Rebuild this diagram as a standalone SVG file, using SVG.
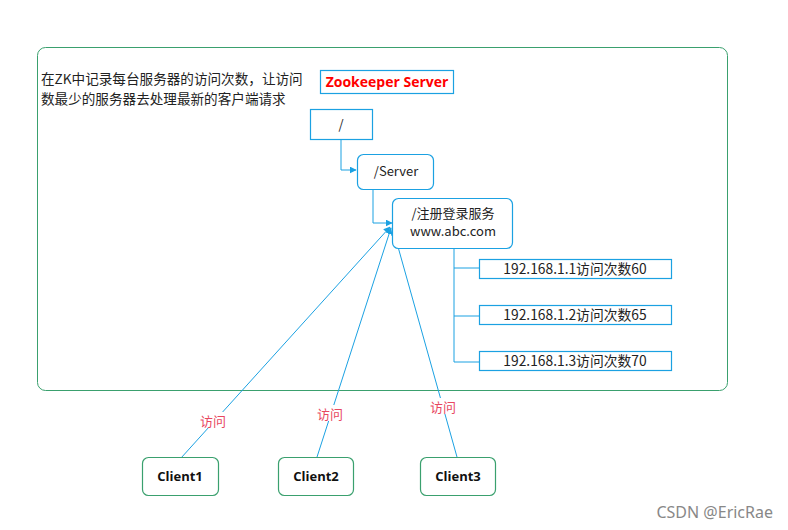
<svg xmlns="http://www.w3.org/2000/svg" width="788" height="530" viewBox="0 0 788 530">
<style>
.t{font-family:"Microsoft YaHei","Noto Sans CJK SC","Open Sans",sans-serif;font-size:13px;fill:#222}
.d{font-size:13.6px}
.ip{font-size:13.8px}
.bx{fill:#fff;stroke:#1ba1e2;stroke-width:1.2}
.cl{fill:#fff;stroke:#3aa06e;stroke-width:1.2}
.ln{fill:none;stroke:#1ba1e2;stroke-width:1}
.lb{font-family:"Noto Sans CJK SC",sans-serif;font-size:13px;fill:#e8475f}
.b{font-family:"Open Sans","Noto Sans",sans-serif;font-weight:bold;font-size:13px;fill:#111}
</style>
<defs>
<marker id="ar" viewBox="0 0 10 10" refX="9" refY="5" markerWidth="7" markerHeight="7" orient="auto" markerUnits="userSpaceOnUse"><path d="M0,0 L10,5 L0,10 z" fill="#1ba1e2"/></marker>
</defs>
<rect width="788" height="530" fill="#fff"/>
<g id="container">
<rect x="37.5" y="47.5" width="690" height="343" rx="8" fill="none" stroke="#3aa06e" stroke-width="1"/>
<text class="t d" x="41" y="84">在ZK中记录每台服务器的访问次数，让访问</text>
<text class="t d" x="41" y="104">数最少的服务器去处理最新的客户端请求</text>
</g>
<g id="connectors">
<path class="ln" d="M341,139 V170 H356" marker-end="url(#ar)"/>
<path class="ln" d="M373,189 V223 H392" marker-end="url(#ar)"/>
<path class="ln" d="M454,248 V362 H479 M454,268 H479 M454,316 H479" stroke-width="1.3"/>
<line class="ln" x1="181" y1="458" x2="390" y2="227" marker-end="url(#ar)"/>
<line class="ln" x1="317" y1="457" x2="391" y2="228" marker-end="url(#ar)"/>
<line class="ln" x1="457" y1="457" x2="393" y2="229" marker-end="url(#ar)"/>
<rect x="198" y="412" width="30" height="16" fill="#fff"/>
<text class="lb" x="213" y="426" text-anchor="middle">访问</text>
<rect x="315" y="405" width="30" height="16" fill="#fff"/>
<text class="lb" x="330" y="419" text-anchor="middle">访问</text>
<rect x="428" y="398" width="30" height="16" fill="#fff"/>
<text class="lb" x="443" y="412" text-anchor="middle">访问</text>
</g>
<g id="title">
<rect x="320.5" y="70.5" width="133" height="23" fill="#fff" stroke="#1ba1e2" stroke-width="1.2"/>
<text x="387" y="87" text-anchor="middle" font-family="'Open Sans','Noto Sans',sans-serif" font-weight="bold" font-size="14" fill="#f00">Zookeeper Server</text>
</g>
<g id="root">
<rect class="bx" x="310.5" y="109.5" width="62" height="30"/>
<text class="t" x="341" y="129" text-anchor="middle">/</text>
</g>
<g id="server">
<rect class="bx" x="357.5" y="154.5" width="76" height="35" rx="6"/>
<text class="t" x="396" y="176" text-anchor="middle">/Server</text>
</g>
<g id="register">
<rect class="bx" x="392.5" y="198.5" width="120" height="50" rx="6"/>
<text class="t" x="453" y="218" text-anchor="middle">/注册登录服务</text>
<text class="t" x="453" y="236" text-anchor="middle">www.abc.com</text>
</g>
<g id="ip1">
<rect class="bx" x="479.5" y="259.5" width="192" height="19"/>
<text class="t ip" x="575" y="274" text-anchor="middle">192.168.1.1访问次数60</text>
</g>
<g id="ip2">
<rect class="bx" x="479.5" y="305.5" width="192" height="19"/>
<text class="t ip" x="575" y="320" text-anchor="middle">192.168.1.2访问次数65</text>
</g>
<g id="ip3">
<rect class="bx" x="479.5" y="351.5" width="192" height="19"/>
<text class="t ip" x="575" y="366" text-anchor="middle">192.168.1.3访问次数70</text>
</g>
<g id="client1">
<rect class="cl" x="142.5" y="457.5" width="76" height="38" rx="6"/>
<text class="b" x="180" y="481" text-anchor="middle">Client1</text>
</g>
<g id="client2">
<rect class="cl" x="278.5" y="457.5" width="75" height="38" rx="6"/>
<text class="b" x="316" y="481" text-anchor="middle">Client2</text>
</g>
<g id="client3">
<rect class="cl" x="420.5" y="457.5" width="75" height="38" rx="6"/>
<text class="b" x="458" y="481" text-anchor="middle">Client3</text>
</g>
<text x="773" y="518" text-anchor="end" font-family="'Noto Sans','Open Sans',sans-serif" font-size="16" fill="#888">CSDN @EricRae</text>
</svg>
